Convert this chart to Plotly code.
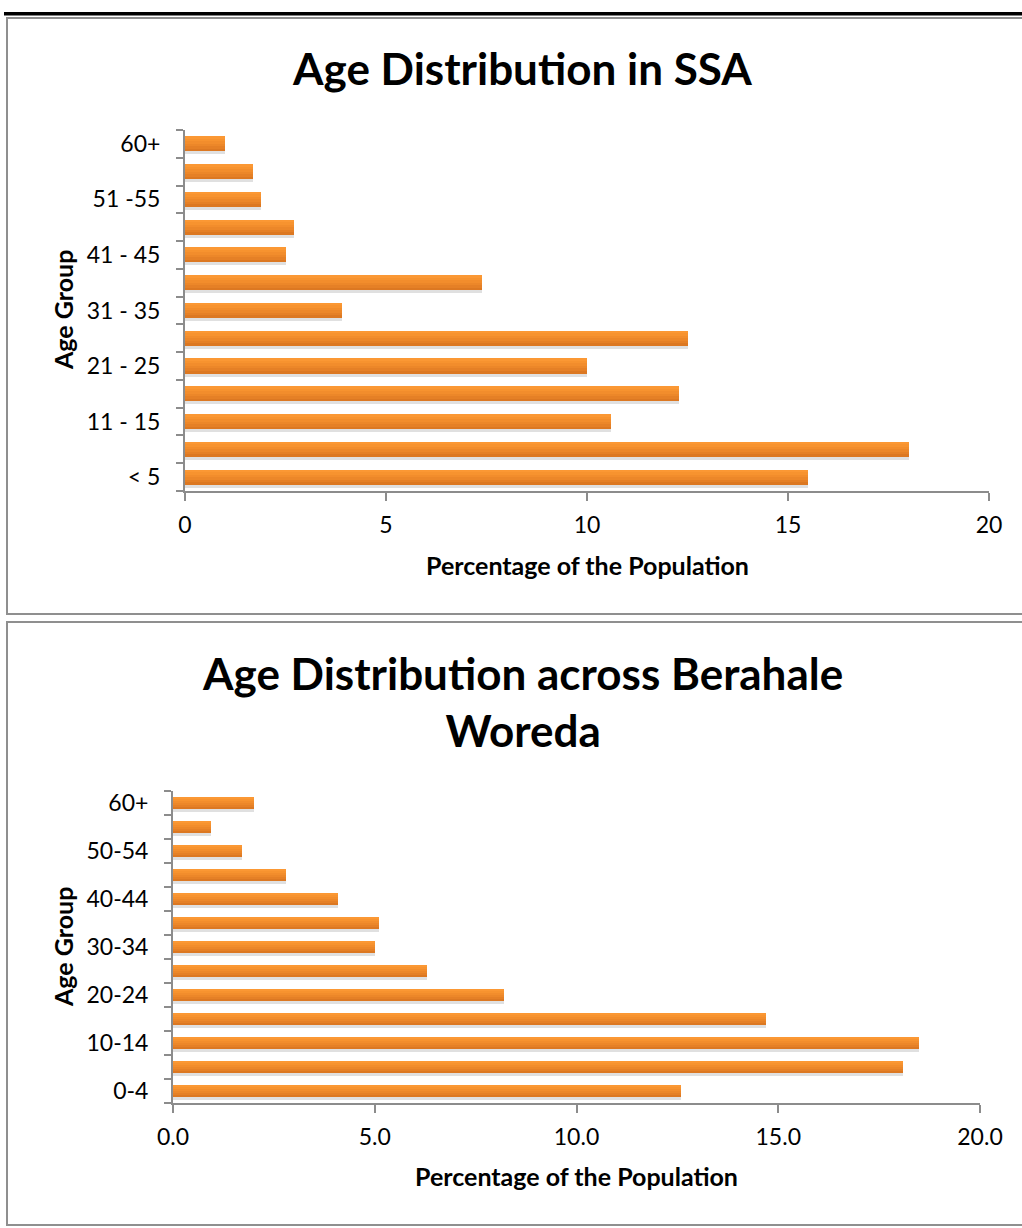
import plotly.graph_objects as go

# ---- data -------------------------------------------------------------
ssa_groups = ["< 5", "5 - 10", "11 - 15", "16 - 20", "21 - 25", "26 - 30", "31 - 35",
              "36 - 40", "41 - 45", "46 - 50", "51 -55", "56 - 60", "60+"]
ssa_pct = [15.5, 18.0, 10.6, 12.3, 10.0, 12.5, 3.9, 7.4, 2.5, 2.7, 1.9, 1.7, 1.0]

woreda_groups = ["0-4", "5-9", "10-14", "15-19", "20-24", "25-29", "30-34",
                 "35-39", "40-44", "45-49", "50-54", "55-59", "60+"]
woreda_pct = [12.6, 18.1, 18.5, 14.7, 8.2, 6.3, 5.0, 5.1, 4.1, 2.8, 1.7, 0.95, 2.0]

ssa_ticks = [0, 5, 10, 15, 20]
woreda_ticks = [0.0, 5.0, 10.0, 15.0, 20.0]

# ---- styling ----------------------------------------------------------
FONT = "Lato, Carlito, Calibri, sans-serif"
AXIS_GREY = "#8c8c8c"
W, H = 1022, 1228
# orange bar shading, light at the top edge to darker at the bottom edge
SHADES = ["#FB9834", "#F7932F", "#F28D2C", "#EC8729", "#E58026", "#DC7822"]

fig = go.Figure()


def px_x(x):
    return x / W


def px_y(y):
    return 1 - y / H


def add_bars(groups, values, xa, ya, bar_w):
    # soft shadow under each bar
    fig.add_trace(go.Bar(
        y=groups, x=values, orientation="h", xaxis=xa, yaxis=ya,
        width=bar_w * 0.26, offset=-bar_w / 2 - bar_w * 0.2,
        marker=dict(color="rgba(0,0,0,0.12)", line=dict(width=0)),
        hoverinfo="skip", showlegend=False))
    n = len(SHADES)
    slice_w = bar_w / n
    for i, col in enumerate(SHADES):
        top = bar_w / 2 - i * slice_w
        fig.add_trace(go.Bar(
            y=groups, x=values, orientation="h", xaxis=xa, yaxis=ya,
            width=slice_w * 1.02, offset=top - slice_w,
            marker=dict(color=col, line=dict(width=0)),
            showlegend=False))


add_bars(ssa_groups, ssa_pct, "x", "y", 0.54)
add_bars(woreda_groups, woreda_pct, "x2", "y2", 0.52)

common_x = dict(
    automargin=False,
    showline=True, linecolor=AXIS_GREY, linewidth=2,
    ticks="outside", ticklen=8, tickwidth=2, tickcolor=AXIS_GREY,
    showgrid=False, zeroline=False, range=[0, 20], fixedrange=True,
    tickfont=dict(family=FONT, size=23, color="#000"), ticklabelstandoff=4,
)
common_y = dict(
    automargin=False,
    showline=True, linecolor=AXIS_GREY, linewidth=2,
    ticks="outside", ticklen=7, tickwidth=2, tickcolor=AXIS_GREY,
    tickson="boundaries", showgrid=False, zeroline=False,
    type="category", range=[-0.5, 12.5], fixedrange=True,
    tickfont=dict(family=FONT, size=23, color="#000"), ticklabelstandoff=18,
)

fig.update_layout(
    width=W, height=H,
    margin=dict(l=0, r=0, t=0, b=0, pad=0),
    paper_bgcolor="white", plot_bgcolor="white",
    barmode="overlay", bargap=0,
    xaxis=dict(common_x, domain=[px_x(185), px_x(989)], anchor="y",
               tickvals=ssa_ticks, ticktext=[str(t) for t in ssa_ticks]),
    yaxis=dict(common_y, domain=[px_y(491), px_y(130)], anchor="x",
               tickvals=ssa_groups,
               ticktext=[g if i % 2 == 0 else "" for i, g in enumerate(ssa_groups)]),
    xaxis2=dict(common_x, domain=[px_x(173), px_x(980)], anchor="y2",
                tickvals=woreda_ticks, ticktext=[f"{t:.1f}" for t in woreda_ticks]),
    yaxis2=dict(common_y, domain=[px_y(1103), px_y(791)], anchor="x2",
                tickvals=woreda_groups,
                ticktext=[g if i % 2 == 0 else "" for i, g in enumerate(woreda_groups)]),
)

# ---- frames -----------------------------------------------------------
shapes = [
    dict(type="rect", xref="paper", yref="paper",
         x0=px_x(4), x1=px_x(1022), y0=px_y(15.5), y1=px_y(12),
         fillcolor="black", line=dict(width=0)),
    dict(type="rect", xref="paper", yref="paper",
         x0=px_x(7), x1=px_x(1030), y0=px_y(614), y1=px_y(18),
         fillcolor="rgba(0,0,0,0)", line=dict(color="#8f8f8f", width=2)),
    dict(type="rect", xref="paper", yref="paper",
         x0=px_x(7), x1=px_x(1030), y0=px_y(1225), y1=px_y(622),
         fillcolor="rgba(0,0,0,0)", line=dict(color="#8f8f8f", width=2)),
]
fig.update_layout(shapes=shapes)

# ---- titles -----------------------------------------------------------
def label(text, x, y, size, angle=0):
    fig.add_annotation(text=text, xref="paper", yref="paper",
                       x=px_x(x), y=px_y(y), xanchor="center", yanchor="middle",
                       showarrow=False, textangle=angle,
                       font=dict(family=FONT, size=size, color="#000", weight="bold"))


label("Age Distribution in SSA", 522, 68, 44)
label("Age Distribution across Berahale<br>Woreda", 522, 701, 44)
label("Percentage of the Population", 587, 565, 25)
label("Percentage of the Population", 576, 1176, 25)
label("Age Group", 63, 310, 25, -90)
label("Age Group", 63, 947, 25, -90)

fig.write_html("out.html")
